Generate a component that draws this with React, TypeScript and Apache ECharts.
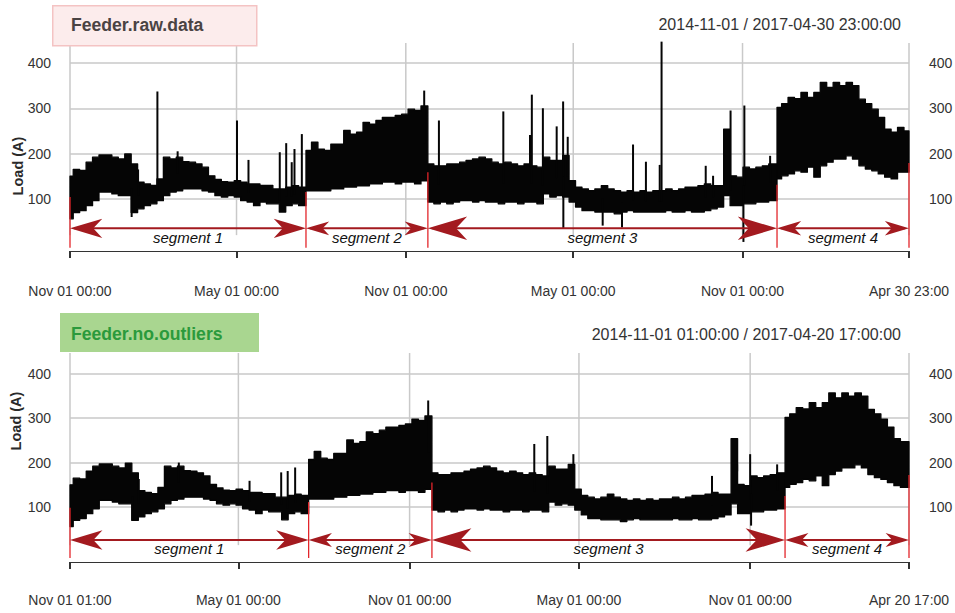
import React, { useEffect, useRef } from 'react';
import * as echarts from 'echarts';

// ---------- data ----------
const bandStart = '2014-11-01 00:00';
const bandStepDays = 7;
// weekly envelope of the hourly load (upper / lower edge, A)
const bandHigh = [
  150, 165, 163, 181, 192, 197, 197, 192, 188, 199,
  177, 137, 133, 130, 144, 192, 188, 192, 182, 181,
  177, 170, 151, 143, 138, 137, 140, 137, 133, 133,
  130, 130, 122, 122, 126, 129, 126, 207, 225, 210,
  207, 221, 221, 251, 243, 247, 269, 265, 273, 280,
  280, 284, 287, 298, 295, 305, 177, 173, 173, 177,
  177, 181, 185, 188, 192, 188, 181, 177, 181, 177,
  173, 177, 173, 170, 192, 185, 185, 196, 140, 126,
  122, 118, 122, 129, 122, 118, 115, 118, 115, 118,
  115, 118, 118, 122, 118, 122, 126, 126, 129, 133,
  129, 129, 254, 151, 148, 170, 166, 170, 173, 177,
  302, 310, 324, 321, 335, 324, 335, 357, 346, 357,
  350, 357, 350, 320, 310, 298, 280, 254, 247, 258,
  250,
];
const bandLow = [
  56, 70, 74, 85, 96, 115, 115, 111, 107, 107,
  70, 78, 85, 89, 96, 107, 115, 118, 122, 122,
  122, 118, 115, 107, 104, 107, 104, 96, 93, 85,
  93, 89, 89, 71, 85, 89, 85, 118, 118, 118,
  118, 122, 122, 126, 126, 129, 129, 133, 133, 137,
  137, 133, 137, 137, 133, 140, 93, 89, 93, 89,
  93, 96, 96, 93, 96, 93, 93, 89, 93, 93,
  89, 93, 93, 89, 111, 104, 107, 104, 93, 82,
  74, 74, 71, 71, 71, 67, 71, 74, 71, 71,
  71, 71, 71, 74, 71, 71, 74, 71, 71, 74,
  78, 82, 107, 85, 85, 89, 89, 93, 93, 96,
  144, 151, 155, 162, 159, 170, 148, 173, 181, 188,
  188, 195, 188, 173, 166, 162, 155, 148, 144, 159,
  159,
];

const segmentBreaks = ['2015-07-15 12:00', '2015-11-25 00:00', '2016-12-08 12:00'];
const segmentNames = ['segment 1', 'segment 2', 'segment 3', 'segment 4'];

const rawRange = ['2014-11-01 00:00', '2017-04-30 23:00'];
const cleanRange = ['2014-11-01 01:00', '2017-04-20 17:00'];

const rawTickDates = ['2014-11-01 00:00', '2015-05-01 00:00', '2015-11-01 00:00', '2016-05-01 00:00', '2016-11-01 00:00', '2017-04-30 23:00'];
const rawTickLabels = ['Nov 01 00:00', 'May 01 00:00', 'Nov 01 00:00', 'May 01 00:00', 'Nov 01 00:00', 'Apr 30 23:00'];
const cleanTickDates = ['2014-11-01 01:00', '2015-05-01 00:00', '2015-11-01 00:00', '2016-05-01 00:00', '2016-11-01 00:00', '2017-04-20 17:00'];
const cleanTickLabels = ['Nov 01 01:00', 'May 01 00:00', 'Nov 01 00:00', 'May 01 00:00', 'Nov 01 00:00', 'Apr 20 17:00'];

const yTickValues = [100, 200, 300, 400];

// isolated readings that stick out of the envelope: [date, load]
const rawSpikes: [string, number][] = [
  ['2015-01-07 00:00', 60], ['2015-01-14 00:00', 165], ['2015-02-04 00:00', 337],
  ['2015-02-26 00:00', 205],
  ['2015-05-01 12:00', 273], ['2015-05-14 00:00', 186], ['2015-06-17 00:00', 203],
  ['2015-06-24 00:00', 223], ['2015-06-30 00:00', 181], ['2015-07-03 00:00', 210],
  ['2015-07-11 00:00', 243], ['2015-11-21 00:00', 339], ['2015-12-07 00:00', 273],
  ['2016-02-15 00:00', 293], ['2016-03-15 00:00', 241], ['2016-03-17 00:00', 330],
  ['2016-03-29 00:00', 300], ['2016-04-13 00:00', 260], ['2016-04-20 00:00', 315],
  ['2016-04-20 06:00', 34], ['2016-04-25 00:00', 237], ['2016-06-02 00:00', 41],
  ['2016-06-23 00:00', 37], ['2016-07-05 00:00', 220], ['2016-07-19 00:00', 182],
  ['2016-08-03 00:00', 175], ['2016-08-05 00:00', 447], ['2016-09-22 00:00', 173],
  ['2016-09-30 00:00', 151], ['2016-10-19 00:00', 295], ['2016-11-02 00:00', 5],
  ['2016-11-03 00:00', 306], ['2016-12-01 00:00', 195],
];
const cleanSpikes: [string, number][] = [
  ['2015-01-07 00:00', 69], ['2015-01-14 00:00', 163], ['2015-02-26 00:00', 200],
  ['2015-05-13 00:00', 159],
  ['2015-06-16 00:00', 178], ['2015-06-23 00:00', 181], ['2015-07-01 00:00', 189],
  ['2015-11-21 00:00', 340], ['2016-03-14 00:00', 242], ['2016-03-28 00:00', 260],
  ['2016-04-25 00:00', 219], ['2016-09-21 00:00', 170], ['2016-10-18 00:00', 196],
  ['2016-11-01 00:00', 219], ['2016-11-02 00:00', 58], ['2016-11-30 00:00', 196],
];

// load at each segment boundary (start, breaks, end)
const rawBoundaryLoad = [104, 115, 159, 131, 179];
const cleanBoundaryLoad = [98, 111, 155, 125, 172];

// ---------- helpers ----------
const HOUR = 3600 * 1000;
const DAY = 24 * HOUR;
const ts = (s: string) => {
  const [d, t = '00:00'] = s.split(' ');
  const [y, m, dd] = d.split('-').map(Number);
  const [hh, mm] = t.split(':').map(Number);
  return Date.UTC(y, m - 1, dd, hh, mm);
};
const sample0 = ts(bandStart);
const stepMs = bandStepDays * DAY;
const sampleTs = bandHigh.map((_, i) => sample0 + i * stepMs);

const FONT = '"Liberation Sans", Arial, Helvetica, sans-serif';
const GRID_COLOR = '#c9c9c9';
const INK = '#050505';
const ARROW_RED = '#a31a1f';
const LINE_RED = '#e3262b';

type Panel = {
  title: string;
  range: string[];
  tickDates: string[];
  tickLabels: string[];
  spikes: [string, number][];
  boundaryLoad: number[];
  top: number;
  height: number;
  yMin: number;
  yMax: number;
  arrowLoad: number;
  labelLoad: number;
  redBottom: number;
  vGridBottom: number;
  labelMargin: number;
};

const panels: Panel[] = [
  {
    title: '2014-11-01 / 2017-04-30 23:00:00',
    range: rawRange, tickDates: rawTickDates, tickLabels: rawTickLabels,
    spikes: rawSpikes, boundaryLoad: rawBoundaryLoad,
    top: 43, height: 208, yMin: -15, yMax: 444,
    arrowLoad: 35, labelLoad: 14, redBottom: -8, vGridBottom: 20, labelMargin: 33,
  },
  {
    title: '2014-11-01 01:00:00 / 2017-04-20 17:00:00',
    range: cleanRange, tickDates: cleanTickDates, tickLabels: cleanTickLabels,
    spikes: cleanSpikes, boundaryLoad: cleanBoundaryLoad,
    top: 353, height: 209, yMin: -24, yMax: 447,
    arrowLoad: 25.5, labelLoad: 7, redBottom: -15, vGridBottom: 14, labelMargin: 31,
  },
];

function buildOption() {
  const grid: any[] = [];
  const xAxis: any[] = [];
  const yAxis: any[] = [];
  const series: any[] = [];

  panels.forEach((p, pi) => {
    const start = ts(p.range[0]);
    const end = ts(p.range[1]);
    const tickTs = p.tickDates.map(ts);
    const bounds = [start, ...segmentBreaks.map(ts), end];

    grid.push({ left: 70, width: 839, top: p.top, height: p.height, containLabel: false, outerBoundsMode: 'none' });

    // time is carried as epoch milliseconds on a linear axis
    xAxis.push({
      type: 'value', gridIndex: pi, min: start, max: end, scale: true,
      axisLine: { show: true, onZero: false, lineStyle: { color: '#333', width: 1.2 } },
      axisTick: { show: true, customValues: tickTs, length: 7, lineStyle: { color: '#333', width: 2 } },
      axisLabel: {
        show: true, customValues: tickTs, margin: p.labelMargin, fontSize: 14, color: '#333', fontFamily: FONT,
        showMinLabel: true, showMaxLabel: true, hideOverlap: false,
        formatter: (v: number) => {
          const k = tickTs.findIndex((t) => Math.abs(t - v) < 60000);
          return k >= 0 ? p.tickLabels[k] : '';
        },
      },
      splitLine: { show: false },
    });

    const yBase = {
      type: 'value', gridIndex: pi, min: p.yMin, max: p.yMax,
      axisLine: { show: false },
      axisTick: { show: false, customValues: yTickValues },
    };
    yAxis.push({
      ...yBase, position: 'left',
      axisLabel: { customValues: yTickValues, margin: 19, fontSize: 14, color: '#333', fontFamily: FONT },
      splitLine: { show: true, lineStyle: { color: GRID_COLOR, width: 1.5 } },
    });
    yAxis.push({
      ...yBase, position: 'right',
      axisLabel: { customValues: yTickValues, margin: 20, fontSize: 14, color: '#333', fontFamily: FONT },
      splitLine: { show: false },
    });

    const xi = pi;
    const yi = pi * 2;

    // vertical grid lines at the x ticks
    series.push({
      type: 'custom', xAxisIndex: xi, yAxisIndex: yi, silent: true, z: 1,
      data: tickTs.map((t) => [t, p.yMax]),
      renderItem: (_: any, api: any) => {
        const t = api.value(0);
        const a = api.coord([t, p.vGridBottom]);
        const b = api.coord([t, p.yMax]);
        return { type: 'line', shape: { x1: a[0], y1: a[1], x2: b[0], y2: b[1] }, style: { stroke: GRID_COLOR, lineWidth: 1.5 } };
      },
    });

    // the dense load envelope, one stepped polygon per segment
    series.push({
      type: 'custom', xAxisIndex: xi, yAxisIndex: yi, silent: true, z: 2,
      data: segmentNames.map((_, k) => [bounds[k], 0, k]),
      renderItem: (_: any, api: any) => {
        const k = api.value(2);
        const s = bounds[k];
        const e = bounds[k + 1];
        const half = stepMs / 2;
        const idx: number[] = [];
        sampleTs.forEach((t, i) => { if (t >= s - 2 * HOUR && t <= e) idx.push(i); });
        if (!idx.length) return null;
        const topPts: number[][] = [];
        const botPts: number[][] = [];
        idx.forEach((i, j) => {
          const xa = j === 0 ? s : sampleTs[i] - half;
          const xb = j === idx.length - 1 ? e : sampleTs[i] + half;
          topPts.push(api.coord([xa, bandHigh[i]]), api.coord([xb, bandHigh[i]]));
          botPts.push(api.coord([xa, bandLow[i]]), api.coord([xb, bandLow[i]]));
        });
        return {
          type: 'polygon',
          shape: { points: topPts.concat(botPts.reverse()) },
          style: { fill: INK, stroke: INK, lineWidth: 1.3, lineJoin: 'round' },
        };
      },
    });

    // spikes
    series.push({
      type: 'custom', xAxisIndex: xi, yAxisIndex: yi, silent: true, z: 3,
      data: p.spikes.map(([d, v]) => [ts(d), v]),
      renderItem: (_: any, api: any) => {
        const t = api.value(0);
        const v = api.value(1);
        const i = Math.max(0, Math.min(bandHigh.length - 1, Math.round((t - sample0) / stepMs)));
        const base = (bandHigh[i] + bandLow[i]) / 2;
        const a = api.coord([t, base]);
        const b = api.coord([t, v]);
        return { type: 'line', shape: { x1: a[0], y1: a[1], x2: b[0], y2: b[1] }, style: { stroke: INK, lineWidth: 2 } };
      },
    });

    // red boundary markers
    series.push({
      type: 'custom', xAxisIndex: xi, yAxisIndex: yi, silent: true, z: 4,
      data: bounds.map((t, k) => [t, p.boundaryLoad[k]]),
      renderItem: (_: any, api: any) => {
        const t = api.value(0);
        const a = api.coord([t, api.value(1)]);
        const b = api.coord([t, p.redBottom]);
        return { type: 'line', shape: { x1: a[0], y1: a[1], x2: b[0], y2: b[1] }, style: { stroke: LINE_RED, lineWidth: 1.3 } };
      },
    });

    // segment arrows + labels
    series.push({
      type: 'custom', xAxisIndex: xi, yAxisIndex: yi, silent: true, z: 5,
      data: segmentNames.map((_, k) => [bounds[k], p.arrowLoad, k]),
      renderItem: (_: any, api: any) => {
        const k = api.value(2);
        const a = api.coord([bounds[k], p.arrowLoad]);
        const b = api.coord([bounds[k + 1], p.arrowLoad]);
        const y = a[1];
        const x0 = a[0];
        const x1 = b[0];
        const L = 2.1 * Math.sqrt(Math.max(x1 - x0, 1));
        const W = 0.3 * L;
        const ly = api.coord([bounds[k], p.labelLoad])[1];
        return {
          type: 'group',
          children: [
            { type: 'line', shape: { x1: x0 + 4, y1: y, x2: x1 - 4, y2: y }, style: { stroke: ARROW_RED, lineWidth: 2 } },
            { type: 'polygon', shape: { points: [[x0, y], [x0 + L, y - W], [x0 + 0.72 * L, y], [x0 + L, y + W]] }, style: { fill: ARROW_RED } },
            { type: 'polygon', shape: { points: [[x1, y], [x1 - L, y - W], [x1 - 0.72 * L, y], [x1 - L, y + W]] }, style: { fill: ARROW_RED } },
            {
              type: 'text',
              style: {
                text: segmentNames[k], x: (x0 + x1) / 2, y: ly,
                font: `italic 15px ${FONT}`, fill: '#111',
                align: 'center', verticalAlign: 'middle', textAlign: 'center', textVerticalAlign: 'middle',
              },
            },
          ],
        };
      },
    });
  });

  const graphic: any[] = [
    { type: 'rect', left: 52, top: 5, shape: { width: 204, height: 40 }, style: { fill: '#fcecec', stroke: '#f4c3c3', lineWidth: 1.5 }, z: 10 },
    { type: 'text', x: 71, y: 25, style: { text: 'Feeder.raw.data', font: `bold 17.6px ${FONT}`, fill: '#4a4343', verticalAlign: 'middle', textVerticalAlign: 'middle' }, z: 11 },
    { type: 'rect', left: 60, top: 313, shape: { width: 199, height: 39 }, style: { fill: '#a9d690' }, z: 10 },
    { type: 'text', x: 71, y: 334, style: { text: 'Feeder.no.outliers', font: `bold 17.6px ${FONT}`, fill: '#2b9a3c', verticalAlign: 'middle', textVerticalAlign: 'middle' }, z: 11 },
    { type: 'text', x: 901, y: 24, style: { text: panels[0].title, font: `16px ${FONT}`, fill: '#333', align: 'right', textAlign: 'right', verticalAlign: 'middle', textVerticalAlign: 'middle' }, z: 11 },
    { type: 'text', x: 901, y: 334, style: { text: panels[1].title, font: `16px ${FONT}`, fill: '#333', align: 'right', textAlign: 'right', verticalAlign: 'middle', textVerticalAlign: 'middle' }, z: 11 },
    { type: 'text', x: 18, y: 166, rotation: Math.PI / 2, style: { text: 'Load (A)', font: `bold 14.5px ${FONT}`, fill: '#2a2a2a', align: 'center', textAlign: 'center', verticalAlign: 'middle', textVerticalAlign: 'middle' }, z: 11 },
    { type: 'text', x: 16, y: 421, rotation: Math.PI / 2, style: { text: 'Load (A)', font: `bold 14.5px ${FONT}`, fill: '#2a2a2a', align: 'center', textAlign: 'center', verticalAlign: 'middle', textVerticalAlign: 'middle' }, z: 11 },
  ];

  return {
    animation: false,
    backgroundColor: '#ffffff',
    textStyle: { fontFamily: FONT },
    grid, xAxis, yAxis, series, graphic,
  };
}

export default function App() {
  const ref = useRef<HTMLDivElement>(null);
  useEffect(() => {
    if (!ref.current) return;
    const chart = echarts.init(ref.current, undefined, { renderer: 'svg' });
    chart.setOption(buildOption() as any);
    return () => chart.dispose();
  }, []);
  return (
    <div
      ref={ref}
      style={{ position: 'fixed', left: 0, top: 0, width: 955, height: 613, background: '#fff' }}
    />
  );
}
